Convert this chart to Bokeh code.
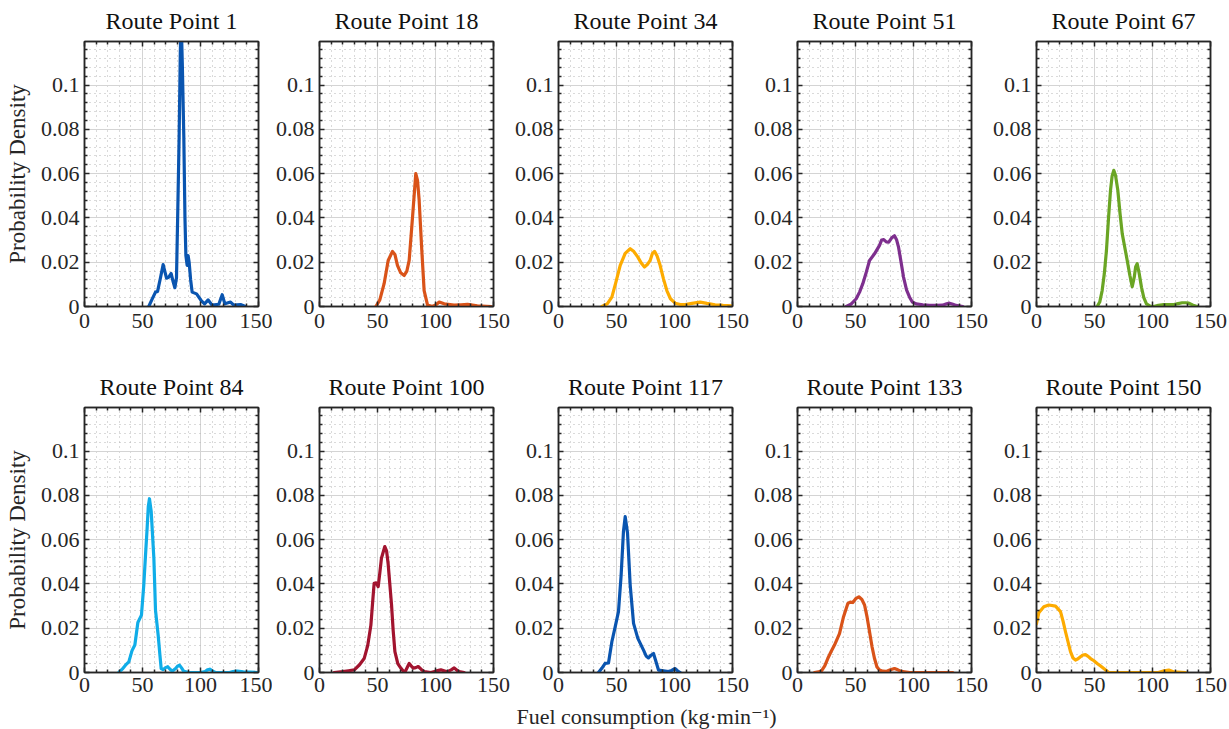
from bokeh.plotting import figure
from bokeh.models import (FixedTicker, LinearAxis, CustomJSTickFormatter, Range1d, Label,
                          CustomLabelingPolicy)
from bokeh.layouts import row, column
from bokeh.embed import file_html
from bokeh.resources import INLINE

titles = ["Route Point 1", "Route Point 18", "Route Point 34", "Route Point 51", "Route Point 67",
          "Route Point 84", "Route Point 100", "Route Point 117", "Route Point 133", "Route Point 150"]
colors = ["#0a55b0", "#d95319", "#fdab00", "#7e2f8e", "#6aa524",
          "#10ade8", "#a2142f", "#0a55b0", "#d95319", "#fdab00"]

x_major = [0, 50, 100, 150]
x_minor = [10, 20, 30, 40, 60, 70, 80, 90, 110, 120, 130, 140]
y_major = [0, 0.02, 0.04, 0.06, 0.08, 0.1]
y_minor = [0.004, 0.008, 0.012, 0.016, 0.024, 0.028, 0.032, 0.036, 0.044, 0.048, 0.052, 0.056,
           0.064, 0.068, 0.072, 0.076, 0.084, 0.088, 0.092, 0.096, 0.104, 0.108, 0.112, 0.116]

x_label = "Fuel consumption (kg\u00b7min\u207b\u00b9)"
y_label = "Probability Density"

rp1_x = [55.4, 58, 61.2, 63, 65.5, 67.8, 70.7, 72.5, 74.7, 76.5, 77.9, 79.3, 80.3, 81.6, 82.6, 83.3,
         84.3, 85.6, 86.6, 87.4, 88.5, 89.3, 90.2, 91.5, 92.8, 96.6, 100.6, 103.5, 106.6, 110, 115.8,
         118.7, 121, 125.9, 128.7, 134.5, 138.8]
rp1_y = [0, 0.003, 0.0065, 0.0068, 0.013, 0.0189, 0.0128, 0.0132, 0.0149, 0.011, 0.0085, 0.013, 0.04,
         0.077, 0.115, 0.13, 0.11, 0.077, 0.04, 0.023, 0.0186, 0.023, 0.02, 0.012, 0.0065, 0.0057, 0.0027,
         0.0012, 0.003, 0.0006, 0.001, 0.0053, 0.0012, 0.002, 0.0006, 0.0009, 0]

rp18_x = [48.6, 52, 55.7, 59.2, 62.9, 65, 67.2, 70, 73, 75.3, 77.3, 80.2, 83.0, 84.5, 85.9, 88.2, 90.2,
          93.1, 97.5, 100.5, 103.2, 107.5, 116, 122, 127.6, 136, 148]
rp18_y = [0, 0.003, 0.0103, 0.0208, 0.0249, 0.0235, 0.0186, 0.0152, 0.014, 0.016, 0.0208, 0.0404, 0.060,
          0.057, 0.048, 0.0253, 0.0072, 0.0007, 0, 0.0008, 0.002, 0.0012, 0.0006, 0.0008, 0.001, 0.0003, 0]

rp34_x = [37.4, 42, 46, 49.5, 53.2, 57.5, 61.8, 65, 68.4, 71.5, 74.1, 77, 79, 81, 82.8, 85, 87.6, 90.5,
          93.4, 96.5, 100.6, 105, 109.2, 115, 122.1, 128, 135, 142, 149]
rp34_y = [0, 0.0012, 0.0042, 0.011, 0.0186, 0.024, 0.0261, 0.0248, 0.0223, 0.0195, 0.0178, 0.0192, 0.0208,
          0.024, 0.0249, 0.0228, 0.0186, 0.0125, 0.0072, 0.0035, 0.0015, 0.0009, 0.0009, 0.0014, 0.0020,
          0.0014, 0.0008, 0.0005, 0.0003]

rp51_x = [42, 46, 50.6, 53.5, 56.3, 59.3, 62.1, 66.4, 70.7, 72.5, 74.4, 76.5, 78.7, 81.2, 83.6, 85.5, 87.1,
          89.3, 91.4, 94, 96.6, 99, 102.3, 108, 113.8, 120, 125, 128.5, 131, 134, 136.8, 142.5]
rp51_y = [0, 0.001, 0.0035, 0.0065, 0.0103, 0.0155, 0.0208, 0.0238, 0.0276, 0.030, 0.0302, 0.0292, 0.0291,
          0.031, 0.0320, 0.030, 0.0268, 0.02, 0.0133, 0.0075, 0.0042, 0.002, 0.0012, 0.0008, 0.0005,
          0.0005, 0.0006, 0.0012, 0.0015, 0.001, 0.0005, 0]

rp67_x = [52.3, 54.5, 56.6, 58.5, 60.3, 62.1, 63.8, 65.2, 66.6, 68.2, 70.1, 72, 73.9, 76, 78.2, 80.5, 82.5,
          84.2, 85.5, 86.8, 88.5, 90.5, 92.5, 94.8, 98, 101, 105, 109.7, 114, 118.4, 122, 125.6, 128.5,
          131.3, 135, 138.5]
rp67_y = [0, 0.002, 0.0072, 0.015, 0.0253, 0.04, 0.0525, 0.059, 0.0615, 0.059, 0.0525, 0.042, 0.0329, 0.027,
          0.0208, 0.014, 0.009, 0.013, 0.018, 0.0193, 0.015, 0.0087, 0.004, 0.0012, 0.0002, 0, 0.0005,
          0.0009, 0.0009, 0.0009, 0.0013, 0.0017, 0.0017, 0.0015, 0.0006, 0]

rp84_x = [29.6, 32.5, 35.3, 38.2, 41.1, 43.4, 46, 49.1, 51.1, 52.6, 54, 55, 56, 57.5, 59.8, 61.2, 63.5, 65,
          66.1, 67.8, 69.8, 71.8, 73.5, 75.6, 78.5, 80.5, 81.9, 83.5, 85.6, 90, 100, 104, 106, 108, 110.5,
          112.9, 125, 128, 131.6, 137, 149]
rp84_y = [0, 0.0015, 0.0033, 0.0048, 0.0101, 0.0124, 0.0226, 0.0259, 0.0395, 0.053, 0.0652, 0.075, 0.0785,
          0.0727, 0.0516, 0.0282, 0.0169, 0.008, 0.0018, 0.0013, 0.0022, 0.0026, 0.0016, 0.0006, 0.0018,
          0.003, 0.0033, 0.0022, 0.0005, 0, 0, 0.0004, 0.0012, 0.0015, 0.0006, 0, 0, 0.0004, 0.0006,
          0.0003, 0]

rp100_x = [12.6, 20, 25, 30, 34.5, 38.5, 41.5, 44.3, 46, 47.1, 48.8, 50.6, 52, 53.4, 56.3, 57.8, 59.2, 60.6,
           62.1, 63.5, 65, 67.5, 70.1, 72, 74, 75.8, 77.3, 79, 80.8, 83, 85.1, 87.5, 90.2, 96, 100, 104.6,
           110, 113.5, 116.1, 118.5, 120.4, 124.7]
rp100_y = [0, 0.0004, 0.0008, 0.0012, 0.0035, 0.0063, 0.012, 0.0214, 0.033, 0.0403, 0.0405, 0.0388, 0.045,
           0.0516, 0.0569, 0.055, 0.049, 0.04, 0.0305, 0.019, 0.0094, 0.004, 0.002, 0.0008, 0.0005, 0.0025,
           0.0041, 0.003, 0.002, 0.0022, 0.0027, 0.0015, 0.0004, 0, 0.0006, 0.0012, 0.0003, 0.0012, 0.0021,
           0.001, 0.0004, 0]

rp117_x = [34.5, 37.5, 40.2, 43.1, 46, 48.9, 51.7, 54, 56, 57.5, 59.5, 61.8, 64.7, 68.4, 73.3, 75.5, 77.6,
           79.8, 81.9, 84, 86.2, 90.5, 94.8, 97.5, 100.6, 102.5, 104.9]
rp117_y = [0, 0.002, 0.0041, 0.0043, 0.0139, 0.0207, 0.0275, 0.044, 0.0637, 0.0704, 0.063, 0.0395, 0.0222,
           0.0154, 0.0101, 0.0075, 0.0066, 0.0078, 0.0086, 0.005, 0.0011, 0.0008, 0.0004, 0.0009, 0.0018,
           0.0008, 0]

rp133_x = [14.7, 20.4, 23.5, 26.1, 29, 31.9, 36.2, 39.7, 43.4, 45.5, 47.7, 50.5, 52.9, 55.5, 57.8, 60, 62.1,
           64.3, 66.4, 68.5, 70.7, 73.5, 76.4, 80, 83.6, 86.5, 89.4, 96.6, 133.9]
rp133_y = [0, 0.0005, 0.003, 0.0063, 0.0095, 0.0124, 0.0176, 0.0252, 0.0312, 0.0318, 0.0316, 0.0335, 0.0342,
           0.033, 0.0305, 0.025, 0.0184, 0.0115, 0.0063, 0.0025, 0.0011, 0.0006, 0.0005, 0.0012, 0.0018,
           0.0012, 0.0005, 0, 0]

rp150_x = [0, 2, 6.3, 10.6, 16.4, 20.7, 23, 25, 29.3, 31.5, 33.6, 35.8, 37.9, 40, 42.2, 44.5, 46.6, 49.5,
           52.3, 55, 58, 62.3, 80, 105, 110, 114, 118, 128.4]
rp150_y = [0.022, 0.027, 0.0297, 0.0305, 0.030, 0.0275, 0.023, 0.0184, 0.0094, 0.0065, 0.0056, 0.0062,
           0.0071, 0.0079, 0.0081, 0.0073, 0.0063, 0.0053, 0.0041, 0.003, 0.0018, 0, 0, 0, 0.0008, 0.0011,
           0.0003, 0]

series_x = [rp1_x, rp18_x, rp34_x, rp51_x, rp67_x, rp84_x, rp100_x, rp117_x, rp133_x, rp150_x]
series_y = [rp1_y, rp18_y, rp34_y, rp51_y, rp67_y, rp84_y, rp100_y, rp117_y, rp133_y, rp150_y]

FONT = "'Liberation Serif', 'DejaVu Serif', serif"
INK = "#262626"

yfmt_code = "return tick === 0 ? '0' : String(Math.round(tick * 100) / 100);"
hide_code = """
const n = indices.size;
for (let i = 0; i < n; i++) { indices.unset(i); }
return indices;
"""


def style_axis(ax, show_labels=True, standoff=4):
    ax.axis_line_color = INK
    ax.axis_line_width = 1.5
    ax.major_tick_in = 5
    ax.major_tick_out = 0
    ax.minor_tick_in = 3
    ax.minor_tick_out = 0
    ax.major_tick_line_color = INK
    ax.major_tick_line_width = 1.5
    ax.minor_tick_line_color = INK
    ax.minor_tick_line_width = 1.5
    ax.major_label_text_font = FONT
    ax.major_label_text_color = INK
    ax.axis_label_text_font = FONT
    ax.axis_label_text_color = INK
    ax.axis_label_text_font_style = "normal"
    ax.axis_label_text_font_size = "23px"
    if show_labels:
        ax.major_label_text_font_size = "22px"
        ax.major_label_standoff = standoff
    else:
        ax.major_label_text_font_size = "1px"
        ax.major_label_standoff = 0
        ax.major_label_policy = CustomLabelingPolicy(code=hide_code)


def make_panel(i):
    r, c = divmod(i, 5)
    left = 84 if c == 0 else 46
    right = 14 if c == 0 else 238 - 174 - left
    bottom = 60 if r == 0 else 31
    p = figure(frame_width=174, frame_height=265,
               x_range=Range1d(0, 150), y_range=Range1d(0, 0.1197),
               output_backend="svg", toolbar_location=None,
               min_border_left=left, min_border_right=right,
               min_border_top=41, min_border_bottom=bottom,
               background_fill_color="white", border_fill_color="white")
    p.title.text = titles[i]
    p.title.align = "center"
    p.title.text_font = FONT
    p.title.text_font_size = "24px"
    p.title.text_font_style = "normal"
    p.title.text_color = "#111111"
    p.title.standoff = 8
    p.outline_line_color = INK
    p.outline_line_width = 1.5

    p.xaxis.ticker = FixedTicker(ticks=x_major, minor_ticks=x_minor)
    p.yaxis.ticker = FixedTicker(ticks=y_major, minor_ticks=y_minor)
    p.yaxis.formatter = CustomJSTickFormatter(code=yfmt_code)
    style_axis(p.xaxis[0], standoff=7 if r == 0 else 5)
    style_axis(p.yaxis[0], standoff=5)
    if c == 0:
        p.yaxis.axis_label = y_label
        p.yaxis.axis_label_standoff = 8

    top_ax = LinearAxis(ticker=FixedTicker(ticks=x_major, minor_ticks=x_minor))
    style_axis(top_ax, show_labels=False)
    p.add_layout(top_ax, "above")
    right_ax = LinearAxis(ticker=FixedTicker(ticks=y_major, minor_ticks=y_minor))
    style_axis(right_ax, show_labels=False)
    p.add_layout(right_ax, "right")

    for g in (p.xgrid[0], p.ygrid[0]):
        g.grid_line_color = "#d4d4d4"
        g.grid_line_width = 1
        g.minor_grid_line_color = "#b4b4b4"
        g.minor_grid_line_dash = "1 4"
        g.minor_grid_line_width = 1

    p.line(series_x[i], series_y[i], line_color=colors[i], line_width=3.2,
           line_join="round", line_cap="round")
    return p


panels = [make_panel(i) for i in range(10)]

# strip holding the shared x-axis title
lab = figure(width=1224, height=26, x_range=Range1d(0, 1224), y_range=Range1d(0, 26),
             output_backend="svg", toolbar_location=None, min_border=0,
             x_axis_type=None, y_axis_type=None, outline_line_color=None,
             background_fill_color="white", border_fill_color="white")
lab.xgrid.visible = False
lab.ygrid.visible = False
lab.add_layout(Label(x=646, y=13, text=x_label, text_align="center", text_baseline="middle",
                     text_font=FONT, text_font_size="22px", text_color=INK))

layout = column(row(*panels[:5]), row(*panels[5:]), lab)

open("out.html", "w").write(file_html(layout, INLINE))
